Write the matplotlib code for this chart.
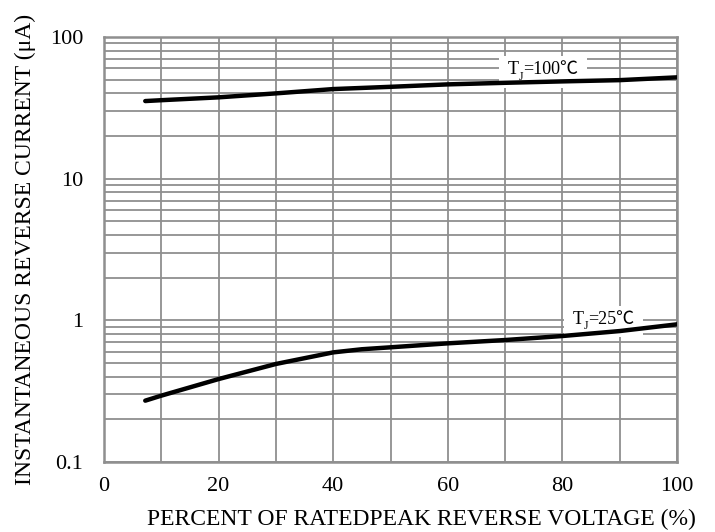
import matplotlib
matplotlib.use("Agg")
import matplotlib.pyplot as plt
import numpy as np
from matplotlib.ticker import FixedLocator, NullFormatter, LogLocator
from matplotlib.patches import Rectangle
from matplotlib.transforms import Bbox

SERIF = ['Liberation Serif', 'Noto Sans CJK SC', 'DejaVu Serif']
plt.rcParams['font.family'] = SERIF

x_100 = [7.2, 10, 20, 30, 40, 50, 60, 70, 80, 90, 100]
y_100 = [35.3, 35.8, 37.5, 40.0, 42.9, 44.5, 46.3, 47.5, 48.6, 49.6, 51.9]
x_25 = [7.2, 10, 20, 30, 40, 45, 50, 60, 70, 80, 90, 100]
y_25 = [0.271, 0.294, 0.385, 0.492, 0.594, 0.625, 0.645, 0.688, 0.726, 0.775, 0.84, 0.937]

x_ticks = [0, 20, 40, 60, 80, 100]
y_ticks = [0.1, 1, 10, 100]
y_ticklabels = ['0.1', '1', '10', '100']

fig = plt.figure(figsize=(7.15, 5.32), dpi=100)
ax = fig.add_axes([104 / 715, 1 - 462 / 532, 573 / 715, 425 / 532])
ax.set_yscale('log')
ax.set_xlim(0, 100)
ax.set_ylim(0.1, 100)

ax.xaxis.set_major_locator(FixedLocator(x_ticks))
ax.xaxis.set_minor_locator(FixedLocator(np.arange(0, 101, 10)))
ax.yaxis.set_major_locator(FixedLocator(y_ticks))
ax.yaxis.set_minor_locator(LogLocator(base=10, subs=np.arange(2, 10)))
ax.yaxis.set_minor_formatter(NullFormatter())
ax.set_yticklabels(y_ticklabels)
ax.grid(True, which='both', color='#8f8f8f', linewidth=1.3)
ax.set_axisbelow(True)
for s in ax.spines.values():
    s.set_color('#8f8f8f')
    s.set_linewidth(1.8)
ax.tick_params(which='both', length=0, labelsize=16)
ax.tick_params(axis='y', pad=15)
ax.tick_params(axis='x', pad=11)

ax.plot(x_100, y_100, color='black', linewidth=3.2, solid_capstyle='round', zorder=3)
ax.plot(x_25, y_25, color='black', linewidth=3.2, solid_capstyle='round', zorder=3)

labels = []


def tj_label(x, y, rest):
    t = ax.text(x, y, 'T', fontsize=13, ha='left', va='baseline', zorder=2.6)
    j = ax.annotate('J', xy=(1, 0), xycoords=t, xytext=(0, -3), textcoords='offset points',
                    fontsize=8.5, ha='left', va='bottom', zorder=2.6)
    r = ax.annotate(rest, xy=(1, 0), xycoords=(j, t), xytext=(0, 0), textcoords='offset points',
                    fontsize=13, ha='left', va='bottom', zorder=2.6)
    labels.append((t, j, r))


tj_label(70.5, 54.5, '=100℃')
tj_label(81.8, 0.94, '=25℃')

fig.text(421 / 715, 1 - 525 / 532, 'PERCENT OF RATEDPEAK REVERSE VOLTAGE (%)',
         fontsize=17, ha='center', va='baseline')
fig.text(25 / 715, 1 - 249 / 532, 'INSTANTANEOUS REVERSE CURRENT (μA)',
         fontsize=17, ha='center', va='center', rotation=90)

# white backgrounds behind the curve labels
fig.canvas.draw()
renderer = fig.canvas.get_renderer()
for parts in labels:
    bb = Bbox.union([p.get_window_extent(renderer) for p in parts])
    padx, pady = 9, 5
    bb_fig = fig.transFigure.inverted().transform(
        [[bb.x0 - padx, bb.y0 - pady], [bb.x1 + padx, bb.y1 + pady]])
    (fx0, fy0), (fx1, fy1) = bb_fig
    ax.add_patch(Rectangle((fx0, fy0), fx1 - fx0, fy1 - fy0, transform=fig.transFigure,
                           facecolor='white', edgecolor='none', zorder=2.4, clip_on=False))

fig.savefig('out.png', dpi=100)
